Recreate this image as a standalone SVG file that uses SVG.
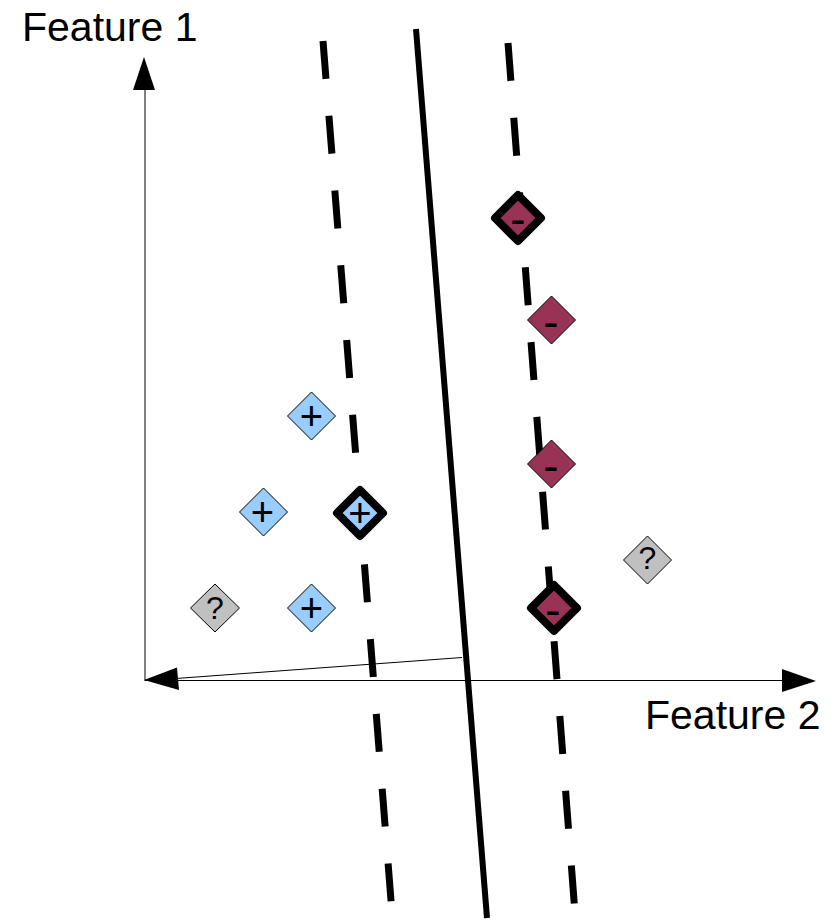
<svg xmlns="http://www.w3.org/2000/svg" width="835" height="923" viewBox="0 0 835 923">
<style>
.lbl{font-family:"Liberation Sans",Arial,sans-serif;font-size:41px;fill:#000}
.sym{font-family:"Liberation Sans",Arial,sans-serif;fill:#000;text-anchor:middle}
.plus{font-size:40px}
.minus{font-size:46px}
.q{font-size:32px}
.dash{stroke:#000;stroke-width:7;fill:none;stroke-dasharray:38 37}
.pos{fill:#99ccff;stroke:#000;stroke-width:1}
.neg{fill:#993355;stroke:#000;stroke-width:1}
.unk{fill:#c0c0c0;stroke:#000;stroke-width:1}
.bold{stroke-width:8;stroke-linejoin:round}
</style>
<rect width="835" height="923" fill="#fff"/>
<g id="connectors">
  <line x1="145" y1="681" x2="145" y2="88" stroke="#000" stroke-width="1"/>
  <polygon points="144,57 133,90 155,90" fill="#000"/>
  <line x1="145" y1="680.5" x2="784" y2="680.5" stroke="#000" stroke-width="1"/>
  <polygon points="816,681 782,669 782,692" fill="#000"/>
  <line x1="462" y1="657.5" x2="176" y2="678.5" stroke="#000" stroke-width="1"/>
  <polygon points="144,680 177,667.5 179,690" fill="#000"/>
  <line x1="416" y1="29" x2="487" y2="918" stroke="#000" stroke-width="6"/>
  <line class="dash" x1="323" y1="41" x2="392" y2="913"/>
  <line class="dash" x1="508" y1="43" x2="575" y2="913"/>
</g>
<g id="n1"><path class="neg bold" d="M518,195 L541,218 L518,241 L495,218 Z"/><text class="sym minus" x="518" y="235">-</text></g>
<g id="n2"><path class="neg" d="M551.5,296 L575.5,320 L551.5,344 L527.5,320 Z"/><text class="sym minus" x="551" y="338">-</text></g>
<g id="n3"><path class="neg" d="M551.5,440 L575.5,464 L551.5,488 L527.5,464 Z"/><text class="sym minus" x="551" y="482">-</text></g>
<g id="n4"><path class="neg bold" d="M554,585 L577,608 L554,631 L531,608 Z"/><text class="sym minus" x="553" y="626">-</text></g>
<g id="n5"><path class="pos" d="M311.5,392 L335.5,416 L311.5,440 L287.5,416 Z"/><text class="sym plus" x="311.5" y="430">+</text></g>
<g id="n6"><path class="pos" d="M263.5,488 L287.5,512 L263.5,536 L239.5,512 Z"/><text class="sym plus" x="262.5" y="526">+</text></g>
<g id="n7"><path class="pos bold" d="M360,490 L383,513 L360,536 L337,513 Z"/><text class="sym plus" x="360" y="527">+</text></g>
<g id="n8"><path class="pos" d="M311.5,584 L335.5,608 L311.5,632 L287.5,608 Z"/><text class="sym plus" x="311.5" y="622">+</text></g>
<g id="n9"><path class="unk" d="M215,584 L239.5,608 L215,632 L190.5,608 Z"/><text class="sym q" x="215" y="619">?</text></g>
<g id="n10"><path class="unk" d="M647.5,536 L671.5,560 L647.5,584 L623.5,560 Z"/><text class="sym q" x="647.5" y="569">?</text></g>
<text class="lbl" x="22" y="41">Feature 1</text>
<text class="lbl" x="645" y="729">Feature 2</text>
</svg>
